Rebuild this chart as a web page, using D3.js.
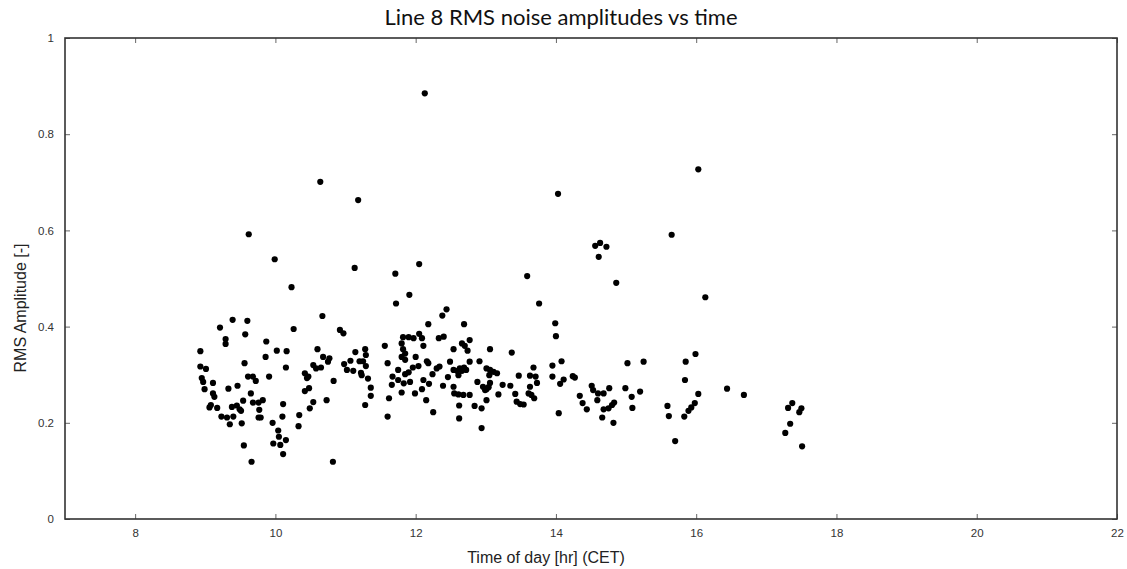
<!DOCTYPE html>
<html>
<head>
<meta charset="utf-8">
<script src="https://cdn.jsdelivr.net/npm/d3@7"></script>
<style>
  html, body { margin: 0; padding: 0; background: #fff; }
  svg { display: block; }
</style>
</head>
<body>
<svg id="chart" width="1127" height="569"></svg>
<script>
// ---- Data (time of day [hr], RMS amplitude [-]) ----
const chartTitle = "Line 8 RMS noise amplitudes vs time";
const xLabel = "Time of day [hr] (CET)";
const yLabel = "RMS Amplitude [-]";
const xTicks = [8, 10, 12, 14, 16, 18, 20, 22];
const yTicks = [0, 0.2, 0.4, 0.6, 0.8, 1];

const times = [
  12.13, 10.64, 11.18, 9.62, 9.99, 11.13, 11.71, 12.05, 13.59, 14.03, 14.56, 14.63, 14.72, 14.61, 15.65, 16.03, 14.86, 16.13,
  10.23, 11.72, 9.39, 9.60, 9.21, 10.67, 10.26, 10.92, 10.97, 9.29, 9.29, 9.57, 9.87, 8.93, 10.02, 10.16, 9.86, 10.60,
  11.56, 11.14, 11.28, 11.29, 10.68, 10.77, 10.75, 10.15, 9.56, 8.93, 9.01, 10.54, 10.58, 10.65, 10.98, 11.07, 11.20, 11.25,
  11.02, 11.11, 11.22, 11.23, 11.29, 11.60, 11.75, 9.61, 9.68, 9.72, 9.91, 10.42, 10.45, 10.47, 8.95, 8.97, 9.11, 9.46,
  9.33, 8.99, 10.83, 11.32, 11.36, 11.67, 11.66, 11.75, 10.48, 10.42, 9.11, 9.13, 9.65, 9.54, 9.68, 9.76, 9.82, 9.08,
  9.06, 9.17, 9.38, 9.45, 9.49, 9.51, 9.77, 10.11, 10.54, 10.73, 10.49, 11.36, 11.28, 11.62, 9.23, 9.31, 9.40, 9.35,
  9.52, 9.76, 9.79, 10.10, 10.34, 9.96, 10.33, 11.60, 10.04, 10.05, 10.15, 9.97, 10.07, 10.11, 9.55, 9.66, 10.82,
  11.91, 13.76, 12.44, 12.38, 12.18, 12.69, 13.99, 14.00, 11.82, 11.90, 11.97, 11.80, 11.82, 11.85, 11.80, 11.85, 12.05,
  12.09, 12.11, 12.33, 12.40, 12.00, 12.66, 12.70, 12.74, 12.77, 12.54, 13.06, 13.37, 12.16, 12.18, 12.49, 12.77, 12.91,
  12.34, 12.30, 11.85, 11.90, 11.96, 12.04, 12.54, 12.59, 12.63, 12.66, 12.69, 12.72, 13.01, 13.06, 13.11, 13.16, 12.24,
  12.46, 12.61, 11.83, 11.92, 12.11, 12.19, 12.88, 13.06, 13.05, 13.47, 13.68, 13.63, 13.71, 13.95, 13.95, 14.08, 14.24,
  14.27, 14.11, 14.06, 12.39, 12.54, 12.09, 11.80, 11.99, 12.96, 12.99, 13.01, 13.04, 13.24, 13.35, 13.18, 12.55, 12.61,
  12.68, 12.77, 13.42, 13.63, 13.73, 13.61, 13.65, 13.69, 12.15, 13.01, 13.44, 13.49, 13.54, 12.62, 12.84, 12.94, 12.25,
  12.62, 12.94, 14.04, 14.34, 14.38, 14.44, 14.51, 14.53, 14.60, 14.68, 14.59, 14.68, 14.75, 14.66, 14.76,
  15.02, 15.25, 15.85, 15.99, 15.84, 16.44, 16.68, 14.99, 15.08, 15.20, 14.80, 14.83, 14.82, 15.09, 16.03, 15.59, 15.61,
  15.83, 15.89, 15.93, 15.98, 15.70, 17.31, 17.37, 17.47, 17.50, 17.34, 17.27, 17.51
];
const amplitudes = [
  0.885, 0.701, 0.663, 0.592, 0.540, 0.522, 0.510, 0.530, 0.505, 0.676, 0.568, 0.574, 0.566, 0.545, 0.591, 0.727, 0.491, 0.461,
  0.482, 0.448, 0.414, 0.412, 0.398, 0.422, 0.395, 0.393, 0.386, 0.374, 0.364, 0.384, 0.369, 0.349, 0.350, 0.349, 0.337, 0.353,
  0.360, 0.347, 0.353, 0.341, 0.337, 0.334, 0.327, 0.315, 0.324, 0.317, 0.312, 0.320, 0.313, 0.315, 0.322, 0.329, 0.328, 0.328,
  0.310, 0.308, 0.304, 0.299, 0.318, 0.324, 0.310, 0.296, 0.296, 0.287, 0.296, 0.303, 0.293, 0.296, 0.293, 0.285, 0.283, 0.277,
  0.271, 0.270, 0.287, 0.292, 0.273, 0.296, 0.279, 0.289, 0.272, 0.266, 0.261, 0.254, 0.261, 0.246, 0.242, 0.242, 0.247, 0.237,
  0.232, 0.231, 0.233, 0.236, 0.228, 0.225, 0.227, 0.239, 0.243, 0.247, 0.230, 0.256, 0.237, 0.251, 0.213, 0.211, 0.213, 0.197,
  0.199, 0.211, 0.211, 0.213, 0.216, 0.200, 0.193, 0.213, 0.184, 0.171, 0.164, 0.157, 0.154, 0.135, 0.153, 0.119, 0.119,
  0.466, 0.448, 0.436, 0.423, 0.405, 0.405, 0.407, 0.380, 0.378, 0.378, 0.376, 0.365, 0.353, 0.344, 0.337, 0.331, 0.385,
  0.376, 0.360, 0.376, 0.379, 0.337, 0.365, 0.360, 0.350, 0.372, 0.353, 0.353, 0.346, 0.328, 0.324, 0.327, 0.327, 0.328,
  0.317, 0.313, 0.301, 0.305, 0.315, 0.318, 0.310, 0.308, 0.313, 0.308, 0.315, 0.310, 0.313, 0.310, 0.306, 0.303, 0.301,
  0.295, 0.299, 0.282, 0.285, 0.289, 0.281, 0.285, 0.283, 0.299, 0.298, 0.315, 0.298, 0.296, 0.319, 0.296, 0.328, 0.297,
  0.294, 0.290, 0.281, 0.277, 0.275, 0.270, 0.263, 0.261, 0.275, 0.268, 0.270, 0.274, 0.279, 0.277, 0.259, 0.261, 0.259,
  0.258, 0.258, 0.260, 0.275, 0.283, 0.261, 0.258, 0.251, 0.247, 0.247, 0.244, 0.239, 0.238, 0.236, 0.235, 0.230, 0.222,
  0.209, 0.189, 0.220, 0.256, 0.241, 0.228, 0.277, 0.268, 0.261, 0.261, 0.247, 0.228, 0.230, 0.211, 0.272,
  0.324, 0.327, 0.327, 0.343, 0.289, 0.271, 0.258, 0.272, 0.254, 0.265, 0.237, 0.242, 0.200, 0.231, 0.260, 0.235, 0.214,
  0.213, 0.225, 0.232, 0.241, 0.162, 0.231, 0.241, 0.222, 0.230, 0.198, 0.179, 0.151
];

// ---- Layout ----
const W = 1127, H = 569;
const plot = { left: 65, right: 1117, top: 38, bottom: 519 };

const svg = d3.select("#chart");
svg.append("rect").attr("width", W).attr("height", H).attr("fill", "#fff");

const x = d3.scaleLinear().domain([7, 22]).range([plot.left, plot.right]);
const y = d3.scaleLinear().domain([0, 1]).range([plot.bottom, plot.top]);

const tickFont = "'Liberation Sans', Arial, sans-serif";
const axisColor = "#333";

// bottom axis
const gx = svg.append("g").attr("transform", `translate(0,${plot.bottom})`)
  .call(d3.axisBottom(x).tickValues(xTicks).tickFormat(d3.format("d")).tickSizeInner(-5).tickSizeOuter(0).tickPadding(10));
// top axis (ticks only)
const gxt = svg.append("g").attr("transform", `translate(0,${plot.top})`)
  .call(d3.axisTop(x).tickValues(xTicks).tickFormat("").tickSizeInner(-5).tickSizeOuter(0));
// left axis
const gy = svg.append("g").attr("transform", `translate(${plot.left},0)`)
  .call(d3.axisLeft(y).tickValues(yTicks).tickFormat(d => d === 0 || d === 1 ? d3.format("d")(d) : d3.format(".1f")(d)).tickSizeInner(-5).tickSizeOuter(0).tickPadding(11));
// right axis (ticks only)
const gyr = svg.append("g").attr("transform", `translate(${plot.right},0)`)
  .call(d3.axisRight(y).tickValues(yTicks).tickFormat("").tickSizeInner(-5).tickSizeOuter(0));

[gx, gxt, gy, gyr].forEach(g => {
  g.attr("font-family", null);
  g.select(".domain").remove();
  g.selectAll(".tick line").attr("stroke", "#666").attr("stroke-width", 1);
  g.selectAll(".tick text").attr("fill", "#333").style("font-family", tickFont).style("font-size", "11.5px");
});

// box
svg.append("rect")
  .attr("x", plot.left).attr("y", plot.top)
  .attr("width", plot.right - plot.left).attr("height", plot.bottom - plot.top)
  .attr("fill", "none").attr("stroke", axisColor).attr("stroke-width", 1.6);

// points
svg.append("g").selectAll("circle")
  .data(times.map((t, i) => ({ t, a: amplitudes[i] })))
  .join("circle")
  .attr("cx", d => x(d.t))
  .attr("cy", d => y(d.a))
  .attr("r", 3.1)
  .attr("fill", "#000");

// title
svg.append("text")
  .attr("x", 561).attr("y", 25)
  .attr("text-anchor", "middle")
  .style("font-family", "Lato, 'Open Sans', sans-serif")
  .style("font-size", "22px")
  .attr("fill", "#111")
  .text(chartTitle);

// x label
svg.append("text")
  .attr("x", 546).attr("y", 563)
  .attr("text-anchor", "middle")
  .style("font-family", tickFont)
  .style("font-size", "16px")
  .attr("fill", "#222")
  .text(xLabel);

// y label
svg.append("text")
  .attr("transform", `translate(26,308) rotate(-90)`)
  .attr("text-anchor", "middle")
  .style("font-family", tickFont)
  .style("font-size", "16px")
  .attr("fill", "#222")
  .text(yLabel);
</script>
</body>
</html>
